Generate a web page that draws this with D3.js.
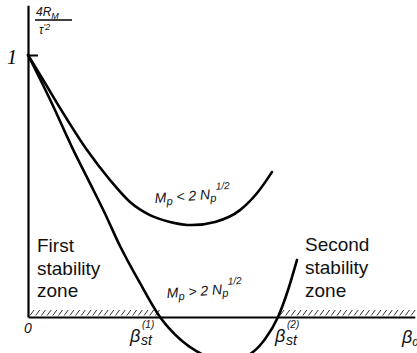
<!DOCTYPE html>
<html>
<head>
<meta charset="utf-8">
<script src="https://cdn.jsdelivr.net/npm/d3@7"></script>
<style>
  html, body { margin: 0; padding: 0; background: #fff; }
  svg { display: block; }
  .zone { font-family: "Liberation Sans", Arial, sans-serif; font-size: 19px; fill: #111; }
  .math { font-family: "Liberation Sans", Arial, sans-serif; font-style: italic; fill: #111; }
</style>
</head>
<body>
<svg id="chart" width="417" height="353"></svg>
<script>
// Normalised stability criterion 4R_M / tau'^2 against beta
const betaUpper = [0, 0.129, 0.242, 0.447, 0.621, 0.773, 0.924, 1.076, 1.242, 1.417, 1.606, 1.742, 1.848];
const kUpper    = [1.0, 0.893, 0.798, 0.637, 0.523, 0.439, 0.389, 0.363, 0.351, 0.363, 0.408, 0.477, 0.553];

const betaLower = [0, 0.167, 0.341, 0.455, 0.583, 0.697, 0.848, 1.0, 1.152, 1.318, 1.5, 1.682, 1.795, 1.894, 1.970, 2.038];
const kLower    = [1.0, 0.830, 0.640, 0.525, 0.395, 0.271, 0.130, 0, -0.085, -0.142, -0.172, -0.142, -0.085, 0, 0.103, 0.218];

// Marginal stability points on the beta axis
const betaStable = [1.0, 1.894];
const yTicks = [1];

const svg = d3.select("#chart");
const x = d3.scaleLinear().domain([0, 2.93]).range([28, 28 + 2.93 * 132]);
const y = d3.scaleLinear().domain([0, 1]).range([317, 55]);
const yTop = 1.19;

// Hatching on the stable side of the beta axis
const hatch = svg.append("g").attr("stroke", "#333").attr("stroke-width", 1);
const hatchRanges = [[0, betaStable[0]], [betaStable[1], 2.93]];
hatchRanges.forEach(([a, b]) => {
  d3.range(x(a) + 2, x(b) - 2, 5.7).forEach(px => {
    hatch.append("line")
      .attr("x1", px).attr("y1", y(0) - 1.5)
      .attr("x2", px + 4).attr("y2", y(0) - 7);
  });
});

// Axes
const xAxis = d3.axisBottom(x).tickValues([]).tickSizeOuter(0);
svg.append("g").attr("transform", `translate(0,${y(0)})`).call(xAxis)
  .call(g => g.select(".domain").attr("stroke", "#000").attr("stroke-width", 2));

const yAxis = d3.axisLeft(d3.scaleLinear().domain([0, yTop]).range([y(0), y(yTop)]))
  .tickValues(yTicks).tickSize(-10).tickPadding(11).tickSizeOuter(0).tickFormat(d3.format("d"));
svg.append("g").attr("transform", `translate(${x(0)},0)`).call(yAxis)
  .call(g => g.select(".domain").attr("stroke", "#000").attr("stroke-width", 2.2))
  .call(g => g.selectAll(".tick line").attr("stroke", "#000").attr("stroke-width", 2))
  .call(g => g.selectAll(".tick text")
    .attr("font-family", "Liberation Serif, serif").attr("font-style", "italic")
    .attr("font-size", 20).attr("fill", "#000").attr("dy", "0.4em"));

// Curves
const line = d3.line().x(d => x(d[0])).y(d => y(d[1])).curve(d3.curveMonotoneX);
const upper = d3.zip(betaUpper, kUpper);
const lower = d3.zip(betaLower, kLower);
svg.append("path").datum(upper).attr("d", line)
  .attr("fill", "none").attr("stroke", "#000").attr("stroke-width", 2.6).attr("stroke-linecap", "round");
svg.append("path").datum(lower).attr("d", line)
  .attr("fill", "none").attr("stroke", "#000").attr("stroke-width", 2.6).attr("stroke-linecap", "round");

// Y-axis title as a fraction
const ttl = svg.append("g").attr("class", "math");
ttl.append("text").attr("x", 36).attr("y", 16).attr("font-size", 12)
  .text("4R").append("tspan").attr("font-size", 9).attr("dy", 3).text("M");
ttl.append("line").attr("x1", 35).attr("x2", 72).attr("y1", 20).attr("y2", 20)
  .attr("stroke", "#000").attr("stroke-width", 1.3);
ttl.append("text").attr("x", 39).attr("y", 34).attr("font-size", 12)
  .text("τ").append("tspan").attr("font-size", 9).attr("dy", -4).text("'2");

// Beta axis labels
const axLab = svg.append("g").attr("class", "math");
axLab.append("text").attr("x", x(0) - 4).attr("y", 333).attr("font-size", 14).text("0");
const superLabels = ["(1)", "(2)"];
betaStable.forEach((b, i) => {
  const px = x(b) - 30 + (i === 1 ? 27 : 0);
  axLab.append("text").attr("x", px).attr("y", 342).attr("font-size", 18).text("β");
  axLab.append("text").attr("x", px + 12).attr("y", 328).attr("font-size", 10).text(superLabels[i]);
  axLab.append("text").attr("x", px + 11).attr("y", 345).attr("font-size", 14).text("st");
});
axLab.append("text").attr("x", 402).attr("y", 343).attr("font-size", 18)
  .text("β").append("tspan").attr("font-size", 12).attr("dy", 3).text("α");

// Curve annotations
function condLabel(px, py, op) {
  const t = svg.append("text").attr("class", "math").attr("font-size", 14)
    .attr("transform", `translate(${px},${py}) rotate(-4)`);
  t.append("tspan").text("M");
  t.append("tspan").attr("font-size", 11).attr("dy", 3).text("p");
  t.append("tspan").attr("dy", -3).text(` ${op} 2 N`);
  t.append("tspan").attr("font-size", 11).attr("dy", 3).text("p");
  t.append("tspan").attr("font-size", 10).attr("dy", -12).text("1/2");
}
condLabel(155, 203, "<");
condLabel(167, 298, ">");

// Stability zone captions
const zone1 = svg.append("text").attr("class", "zone").attr("x", 37).attr("y", 252);
["First", "stability", "zone"].forEach((w, i) =>
  zone1.append("tspan").attr("x", 37).attr("dy", i === 0 ? 0 : 22.5).text(w));
const zone2 = svg.append("text").attr("class", "zone").attr("x", 305).attr("y", 251);
["Second", "stability", "zone"].forEach((w, i) =>
  zone2.append("tspan").attr("x", 305).attr("dy", i === 0 ? 0 : 23).text(w));
</script>
</body>
</html>
